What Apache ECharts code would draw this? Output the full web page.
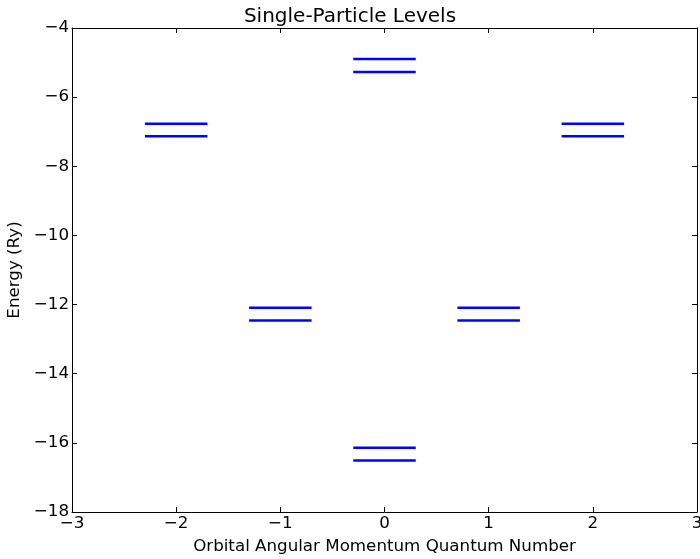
<!DOCTYPE html>
<html>
<head>
<meta charset="utf-8">
<script src="https://cdn.jsdelivr.net/npm/echarts@6/dist/echarts.min.js"></script>
<style>html,body{margin:0;padding:0;background:#fff}#c{width:700px;height:559px}</style>
</head>
<body>
<div id="c"></div>
<script>
// Data: orbital angular momentum quantum number and energy (Ry) of each level
const orbitalL = [0, 0, -1, -1, 1, 1, -2, -2, 2, 2, 0, 0];
const energies = [-16.14, -16.51, -12.09, -12.46, -12.09, -12.46, -6.77, -7.13, -6.77, -7.13, -4.90, -5.27];
const halfWidth = 0.3;
const xTicks = [-3, -2, -1, 0, 1, 2, 3];
const yTicks = [-18, -16, -14, -12, -10, -8, -6, -4];

const FONT = 'DejaVu Sans';
const fmt = v => String(v).replace('-', '\u2212');

const series = orbitalL.map((l, i) => ({
  type: 'line',
  data: [[l - halfWidth, energies[i]], [l + halfWidth, energies[i]]],
  symbol: 'none',
  lineStyle: { color: '#0000ff', width: 2.5 },
  silent: true,
  animation: false
}));

const axisCommon = {
  axisLine: { show: true, onZero: false, lineStyle: { color: '#000', width: 1 } },
  axisTick: { show: true, inside: true, length: 5, lineStyle: { color: '#000' } },
  splitLine: { show: false }
};

const chart = echarts.init(document.getElementById('c'), null, { renderer: 'canvas' });
chart.setOption({
  backgroundColor: '#fff',
  animation: false,
  title: {
    text: 'Single-Particle Levels',
    left: 'center',
    top: 2,
    textStyle: { fontFamily: FONT, fontSize: 20, fontWeight: 'normal', color: '#000' }
  },
  grid: { left: 72, right: 3, top: 28, bottom: 47, containLabel: false, outerBoundsMode: 'none' },
  xAxis: [
    Object.assign({
      type: 'value', min: xTicks[0], max: xTicks[xTicks.length - 1], interval: 1,
      name: 'Orbital Angular Momentum Quantum Number',
      nameLocation: 'middle', nameGap: 26,
      nameTextStyle: { fontFamily: FONT, fontSize: 16.7, color: '#000' },
      axisLabel: { fontFamily: FONT, fontSize: 16.7, color: '#000', margin: 3, formatter: fmt }
    }, axisCommon),
    Object.assign({
      type: 'value', position: 'top', min: xTicks[0], max: xTicks[xTicks.length - 1], interval: 1,
      axisLabel: { show: false }
    }, axisCommon)
  ],
  yAxis: [
    Object.assign({
      type: 'value', min: yTicks[0], max: yTicks[yTicks.length - 1], interval: 2,
      name: 'Energy (Ry)',
      nameLocation: 'middle', nameGap: 40,
      nameTextStyle: { fontFamily: FONT, fontSize: 16.7, color: '#000' },
      axisLabel: { fontFamily: FONT, fontSize: 16.7, color: '#000', margin: 3, formatter: fmt }
    }, axisCommon),
    Object.assign({
      type: 'value', position: 'right', min: yTicks[0], max: yTicks[yTicks.length - 1], interval: 2,
      axisLabel: { show: false }
    }, axisCommon)
  ],
  series: series
});
</script>
</body>
</html>
